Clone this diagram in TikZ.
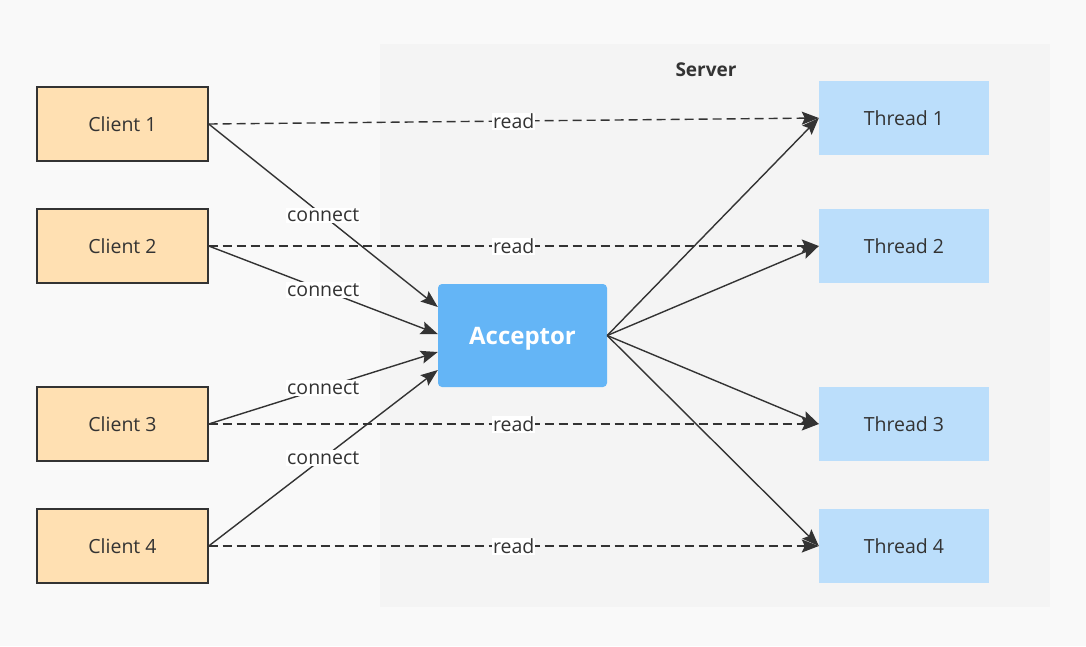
\documentclass[tikz,border=0pt]{standalone}
\usepackage{fontspec}
\setmainfont{Open Sans}
\usetikzlibrary{arrows.meta,calc}
\definecolor{pagebg}{HTML}{F9F9F9}
\definecolor{srvbg}{HTML}{F4F4F4}
\definecolor{clientfill}{HTML}{FFE0B2}
\definecolor{threadfill}{HTML}{BBDEFB}
\definecolor{accfill}{HTML}{64B5F6}
\definecolor{ink}{HTML}{333333}
\begin{document}
\begin{tikzpicture}[x=1pt,y=-1pt,
  client/.style={draw=ink,line width=1.4pt,fill=clientfill,minimum width=171pt,minimum height=74pt,inner sep=0pt,text=ink,font=\fontsize{19.5}{23}\selectfont},
  thread/.style={fill=threadfill,minimum width=170pt,minimum height=74pt,inner sep=0pt,text=ink,font=\fontsize{19.5}{23}\selectfont},
  acceptor/.style={fill=accfill,rounded corners=4pt,minimum width=169pt,minimum height=103pt,inner sep=0pt,text depth=0pt,text=white,font=\fontsize{24}{29}\selectfont\bfseries},
  conn/.style={draw=ink,line width=1.4pt,-{Stealth[length=17pt,width=13pt,inset=3pt]}},
  readln/.style={conn,dash pattern=on 9pt off 5pt},
  lbl/.style={fill=white,inner sep=1pt,text=ink,font=\fontsize{19.5}{23}\selectfont}
]
\useasboundingbox (0,0) rectangle (1086,646);
\fill[pagebg] (0,0) rectangle (1086,646);
\fill[srvbg] (380,44) rectangle (1050,607);
\node[text=ink,font=\fontsize{19}{23}\selectfont\bfseries] (srv) at (706,70) {Server};

\node[client] (c1) at (122.5,124) {Client 1};
\node[client] (c2) at (122.5,246) {Client 2};
\node[client] (c3) at (122.5,424) {Client 3};
\node[client] (c4) at (122.5,546) {Client 4};

\node[thread] (t1) at (904,118) {Thread 1};
\node[thread] (t2) at (904,246) {Thread 2};
\node[thread] (t3) at (904,424) {Thread 3};
\node[thread] (t4) at (904,546) {Thread 4};

\node[acceptor] (acc) at (522.5,335.5) {Acceptor};

\coordinate (a1) at ($(acc.west)+(0,-28.5)$);
\coordinate (a2) at ($(acc.west)+(0,-1.5)$);
\coordinate (a3) at ($(acc.west)+(0,16.5)$);
\coordinate (a4) at ($(acc.west)+(0,34.5)$);

\draw[readln] (c1.east) -- node[lbl]{read} (t1.west);
\draw[readln] (c2.east) -- node[lbl]{read} (t2.west);
\draw[readln] (c3.east) -- node[lbl]{read} (t3.west);
\draw[readln] (c4.east) -- node[lbl]{read} (t4.west);

\draw[conn] (c1.east) -- node[lbl]{connect} (a1);
\draw[conn] (c2.east) -- node[lbl]{connect} (a2);
\draw[conn] (c3.east) -- node[lbl]{connect} (a3);
\draw[conn] (c4.east) -- node[lbl]{connect} (a4);

\draw[conn] (acc.east) -- (t1.west);
\draw[conn] (acc.east) -- (t2.west);
\draw[conn] (acc.east) -- (t3.west);
\draw[conn] (acc.east) -- (t4.west);
\end{tikzpicture}
\end{document}
